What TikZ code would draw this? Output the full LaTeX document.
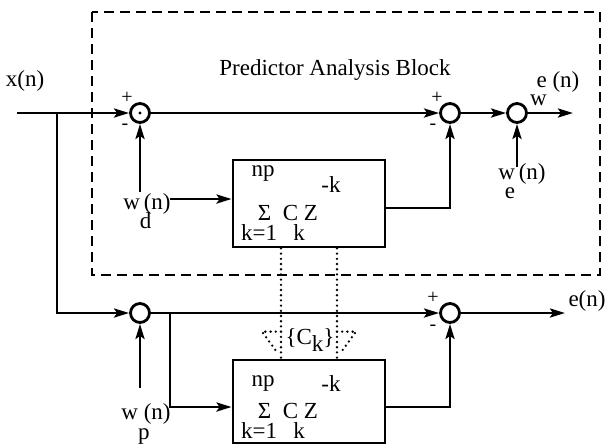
\documentclass[tikz,border=0pt]{standalone}
\usepackage{fontspec}
\setmainfont{Liberation Serif}
\usetikzlibrary{arrows.meta,positioning,calc}

\begin{document}
\begin{tikzpicture}[x=0.5pt,y=-0.5pt,
    font=\fontsize{11.5}{13}\selectfont,
    sig/.style={-{Stealth[length=7.5pt,width=4.5pt,inset=1.5pt]}, line width=1.4pt},
    summer/.style={circle, draw, line width=1.4pt, minimum size=9.5pt, inner sep=0pt},
    predbox/.style={draw, line width=1.4pt, minimum width=76pt, inner sep=0pt},
    dotline/.style={line width=1.3pt, line cap=round, dash pattern=on 0pt off 2.6pt},
    sign/.style={font=\fontsize{10}{12}\selectfont, inner sep=0pt},
    lbl/.style={inner sep=0pt}]
            \useasboundingbox (0,0) rectangle (608,447);

            % Predictor analysis block
            \draw[line width=1.4pt, dash pattern=on 5pt off 3pt] (92,12) rectangle (600,275);
            \node[lbl] (title) at (335,70) {Predictor Analysis Block};

            % Summing junctions
            \node[summer] (sum1) at (140,113) {};
            \node[summer] (sum2) at (450,113) {};
            \node[summer] (sum3) at (517,113) {};
            \node[summer] (sum4) at (140,313) {};
            \node[summer] (sum5) at (450,313) {};
            \fill (sum1) circle (0.8pt);

            % Predictor boxes
            \node[predbox, minimum height=43.5pt] (predtop) at (309,203.5) {};
            \node[predbox, minimum height=41.5pt] (predbot) at (309,401.5) {};
            \foreach \b/\npy in {predtop/-30, predbot/-18} {
                \node[lbl] (\b-np) at ($(\b)+(-46,\npy)$) {np};
                \node[lbl] (\b-pow) at ($(\b)+(22,-18.5)$) {-k};
                \node[lbl] (\b-sum) at ($(\b)+(-21,9)$) {Σ\hspace{0.5em}C Z};
                \node[lbl] (\b-idx) at ($(\b)+(-36,29)$) {k=1\hspace{0.7em}k};
            }

            % Input and branch
            \coordinate (xin) at (17,113);
            \coordinate (tap1) at (57,113);
            \node[lbl] (xlbl) at (25,81) {x(n)};
            \draw[sig] (xin) -- (sum1);
            \draw[sig] (tap1) |- (sum4);

            % Upper path
            \draw[sig] (sum1) -- (sum2);
            \draw[sig] (sum2) -- (sum3);
            \coordinate (ewout) at (573,113);
            \draw[sig] (sum3) -- (ewout);
            \node[lbl, anchor=base] (ewlbl) at (558,87) {e\llap{\raisebox{-9pt}{w}} (n)};

            \coordinate (wdup) at (140,192);
            \draw[sig] (wdup) -- (sum1);
            \node[lbl, anchor=base] (wdlbl) at (147,209) {w\rlap{\raisebox{-9.5pt}{d}}\,(n)};
            \coordinate (wdtap) at (170,199);
            \draw[sig] (wdtap) -- (wdtap -| predtop.west);
            \draw[sig] ([yshift=-2.25pt]predtop.east) -| (sum2);

            \coordinate (weup) at (517,167);
            \draw[sig] (weup) -- (sum3);
            \node[lbl, anchor=base] (welbl) at (522,179) {w\llap{\raisebox{-9.5pt}{e}}\,(n)};

            % Lower path
            \draw[sig] (sum4) -- (sum5);
            \coordinate (eout) at (565,313);
            \draw[sig] (sum5) -- (eout);
            \node[lbl, anchor=base] (elbl) at (587,306) {e(n)};

            \coordinate (wpup) at (140,388);
            \draw[sig] (wpup) -- (sum4);
            \node[lbl, anchor=base] (wplbl) at (146,419) {w\rlap{\raisebox{-10pt}{p}} (n)};
            \coordinate (tap2) at (170,313);
            \draw[sig] (tap2) |- ([yshift=-2.75pt]predbot.west);
            \draw[sig] ([yshift=-2.75pt]predbot.east) -| (sum5);

            % Signs
            \node[sign] (plus1) at (127,98) {+};
            \node[sign] (minus1) at (125,127) {-};
            \node[sign] (plus2) at (437,98) {+};
            \node[sign] (minus2) at (433,127) {-};
            \node[sign] (plus5) at (433,298) {+};
            \node[sign] (minus5) at (433,328) {-};

            % Coefficient transfer
            \foreach \s in {-1,1} {
                \draw[dotline] ($(predtop.south)+(28*\s,0)$) -- ($(predbot.north)+(28*\s,0)$);
                \draw[dotline] ($(predbot.north)+(28*\s,-27)$) -- ($(predbot.north)+(47*\s,-27)$)
                    -- ($(predbot.north)+(31*\s,-5)$);
            }
            \node[lbl] (coef) at (310,340) {\{C\raisebox{-0.7ex}{k}\}};
        \end{tikzpicture}
\end{document}
